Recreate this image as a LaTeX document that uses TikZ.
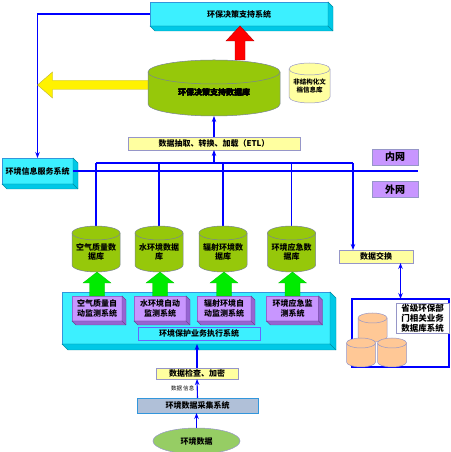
\documentclass[tikz,border=0pt]{standalone}
\usepackage{fontspec}
\newfontfamily\cjk{Noto Sans CJK SC}
\usetikzlibrary{
  arrows.meta,
  calc,
  shapes.geometric
}
\usepackage{xcolor}
\definecolor{netblue}{RGB}{0,0,255}
\definecolor{cyanface}{RGB}{60,240,255}
\definecolor{cyanside}{RGB}{0,200,230}
\definecolor{cyanedge}{RGB}{50,150,220}
\definecolor{dbgreen}{RGB}{150,200,10}
\definecolor{dbedge}{RGB}{120,130,150}
\definecolor{notefill}{RGB}{255,255,160}
\definecolor{noteedge}{RGB}{150,150,200}
\definecolor{netpurple}{RGB}{200,150,255}
\definecolor{purpleside}{RGB}{150,100,210}
\definecolor{collectfill}{RGB}{176,192,216}
\definecolor{envgreen}{RGB}{150,205,100}
\definecolor{peach}{RGB}{255,200,150}
\definecolor{arrowgreen}{RGB}{0,235,0}

% depth faces of a box node: node, depth, colour
\newcommand{\slab}[3]{%
  \filldraw[fill=#3, draw=#3!70!black, line width=0.4pt]
    (#1.north east) -- ++(#2,-#2) -- ($(#1.south east)+(#2,-#2)$)
    -- ($(#1.south west)+(#2,-#2)$) -- (#1.south west) -- (#1.south east) -- cycle;
  \draw[#3!70!black, line width=0.4pt] (#1.south east) -- ++(#2,-#2);
}
% cylinder round an empty node: node, x radius, y radius, style
\newcommand{\dbcyl}[4]{%
  \filldraw[#4] ([yshift=-#3pt]#1.north west) -- ([yshift=#3pt]#1.south west)
    arc[start angle=180, end angle=360, x radius=#2pt, y radius=#3pt]
    -- ([yshift=-#3pt]#1.north east)
    arc[start angle=0, end angle=180, x radius=#2pt, y radius=#3pt] -- cycle;
  \draw[#4] ([yshift=-#3pt]#1.north west)
    arc[start angle=180, end angle=360, x radius=#2pt, y radius=#3pt];
}
% fat upward arrow: from, to, shaft half, head half, head length, style
\newcommand{\fatup}[6]{%
  \filldraw[#6] let \p1=(#1), \p2=(#2) in
    (\x1-#3pt,\y1) -- (\x1-#3pt,\y2-#5pt) -- (\x1-#4pt,\y2-#5pt) -- (\x1,\y2)
    -- (\x1+#4pt,\y2-#5pt) -- (\x1+#3pt,\y2-#5pt) -- (\x1+#3pt,\y1) -- cycle;
}

\begin{document}
\begin{tikzpicture}[
  x=1pt, y=1pt,
  every node/.style={font=\cjk\bfseries\fontsize{8}{9.5}\selectfont, inner sep=0pt, outer sep=0pt},
  >={Stealth[length=6pt, width=4.5pt]},
  link/.style={draw=netblue, line width=1.1pt},
  slabbox/.style={draw=cyanedge, fill=cyanface, line width=0.5pt},
  sysbox/.style={draw=purpleside, fill=netpurple, line width=0.5pt, minimum height=25, align=center},
  note/.style={draw=noteedge, fill=notefill, line width=0.5pt},
  netbox/.style={draw=noteedge, fill=netpurple, line width=0.5pt, minimum width=46, minimum height=16,
    font=\cjk\bfseries\fontsize{10}{12}\selectfont},
  greencyl/.style={fill=dbgreen, draw=dbedge, line width=0.5pt},
  peachcyl/.style={fill=peach, draw=noteedge, line width=0.5pt}
]
\useasboundingbox (0,0) rectangle (450,452);

% decision support
\node[slabbox, minimum width=178, minimum height=24] (dsys) at (239,438) {环保决策支持系统};
\slab{dsys}{5}{cyanside}
\node[minimum width=132, minimum height=56] (dss) at (214,364) {};
\node[minimum width=41, minimum height=40] (unstr) at (309.5,369) {};

% information service
\node[slabbox, minimum width=71, minimum height=26] (infosys) at (37.5,281) {环境信息服务系统};
\slab{infosys}{5}{cyanside}
\draw[link, ->] (dsys.west) -| (infosys.north);

% ETL and network
\node[note, minimum width=172, minimum height=13] (etl) at (214,308.5) {数据抽取、转换、加载（ETL）};
\node[netbox] (inner) at (395,295) {内网};
\node[netbox] (outer) at (395,262.5) {外网};
\node[note, minimum width=74, minimum height=13] (xchg) at (376,195.5) {数据交换};
\foreach \n/\x in {db1/96, db2/159, db3/223, db4/291.5}
  \node[minimum width=48, minimum height=46] (\n) at (\x,203) {};

\coordinate (upbus) at (214,289);
\coordinate (tap) at (353,289);
\draw[link, ->] (etl.north) -- (dss.south);
\draw[link, ->] (upbus) -- (etl.south);
\draw[link] (infosys.east) -- (infosys.east -| inner.east);
\draw[link] (db1.north |- upbus) -- (tap);
\foreach \n in {db1,db2,db3,db4} {
  \draw[link] (\n.north) -- (\n.north |- upbus);
  \fill[netblue] (\n.north |- infosys.east) circle (1.6);
}
\fill[netblue] (tap |- infosys.east) circle (1.6);
\draw[link, ->] (tap) -- (tap |- xchg.north);

% yellow and red arrows
\filldraw[fill=yellow, draw=yellow!70!black, line width=0.4pt]
  let \p1=($(dss.west)+(6,3)$), \p2=(infosys.north) in
  (\x1,\y1+4.5pt) -- (\x2+15pt,\y1+4.5pt) -- (\x2+15pt,\y1+13pt) -- (\x2,\y1)
  -- (\x2+15pt,\y1-13pt) -- (\x2+15pt,\y1-4.5pt) -- (\x1,\y1-4.5pt) -- cycle;
\fatup{$(dss.north)+(26,0)$}{dsys.south}{5}{14}{15}{fill=red, draw=red!70!black, line width=0.4pt}

% databases
\dbcyl{dss}{66}{12}{greencyl}
\dbcyl{unstr}{20.5}{6}{fill=notefill, draw=noteedge, line width=0.5pt}
\foreach \n in {db1,db2,db3,db4}
  \dbcyl{\n}{24}{7}{greencyl}
\node at ($(dss.center)+(0,-4)$) {环保决策支持数据库};
\node[font=\cjk\bfseries\fontsize{6.5}{8}\selectfont, align=center] at ($(unstr.center)+(0,-3)$) {非结构化文\\档信息库};
\node[align=center] at ($(db1.center)+(0,-3)$) {空气质量数\\据库};
\node[align=center] at ($(db2.center)+(0,-3)$) {水环境数据\\库};
\node[align=center] at ($(db3.center)+(0,-3)$) {辐射环境数\\据库};
\node[align=center] at ($(db4.center)+(0,-3)$) {环境应急数\\据库};

% business execution
\node[slabbox, minimum width=268, minimum height=52] (exec) at (196,134) {};
\slab{exec}{6}{cyanside}
\node[sysbox, minimum width=50] (sys1) at (97,143.5) {空气质量自\\动监测系统};
\node[sysbox, minimum width=52] (sys2) at (160,143.5) {水环境自动\\监测系统};
\node[sysbox, minimum width=54] (sys3) at (224,143.5) {辐射环境自\\动监测系统};
\node[sysbox, minimum width=52] (sys4) at (292.5,143.5) {环境应急监\\测系统};
\foreach \i in {1,...,4} {
  \slab{sys\i}{4}{purpleside}
  \fatup{sys\i.north}{db\i.south}{7.5}{14}{11}{fill=arrowgreen, draw=arrowgreen!80!black, line width=0.3pt}
}
\node[draw=netblue!60, fill=cyanface, line width=0.5pt, minimum width=122, minimum height=13]
  (execlbl) at (199,118.5) {环境保护业务执行系统};

% collection
\node[note, minimum width=82, minimum height=11] (check) at (197,78.5) {数据检查、加密};
\node[draw=cyanedge, fill=collectfill, line width=0.5pt, minimum width=121, minimum height=15]
  (collect) at (197.5,46.5) {环境数据采集系统};
\node[ellipse, draw=noteedge, fill=envgreen, line width=0.5pt, minimum width=87, minimum height=26]
  (envdata) at (196.5,11) {环境数据};
\draw[link, ->] (check.north) -- (check.north |- exec.south);
\draw[link, ->] (collect.north) -- (check.south)
  node[midway, left=3pt, font=\cjk\fontsize{5.5}{6}\selectfont] {数据 信息};
\draw[link, ->] (envdata.north) -- (envdata.north |- collect.south);

% provincial systems
\node[draw=netblue, line width=1.2pt, fill=white, minimum width=97, minimum height=68] (prov) at (400.5,119) {};
\draw[link, <->] (prov.north) -- (prov.north |- xchg.south);
\node[draw=noteedge, fill=white, line width=0.5pt, minimum width=53, minimum height=30, align=center,
  font=\cjk\bfseries\fontsize{8.5}{10}\selectfont] (provlbl) at (422.5,134) {省级环保部\\门相关业务\\数据库系统};
\node[minimum width=29, minimum height=29] (pc1) at (372.5,124.5) {};
\node[minimum width=29, minimum height=29] (pc2) at (361,99.5) {};
\node[minimum width=29, minimum height=29] (pc3) at (392,99.5) {};
\dbcyl{pc1}{14.5}{5}{peachcyl}
\dbcyl{pc2}{14.5}{5}{peachcyl}
\dbcyl{pc3}{14.5}{5}{peachcyl}

\end{tikzpicture}
\end{document}
